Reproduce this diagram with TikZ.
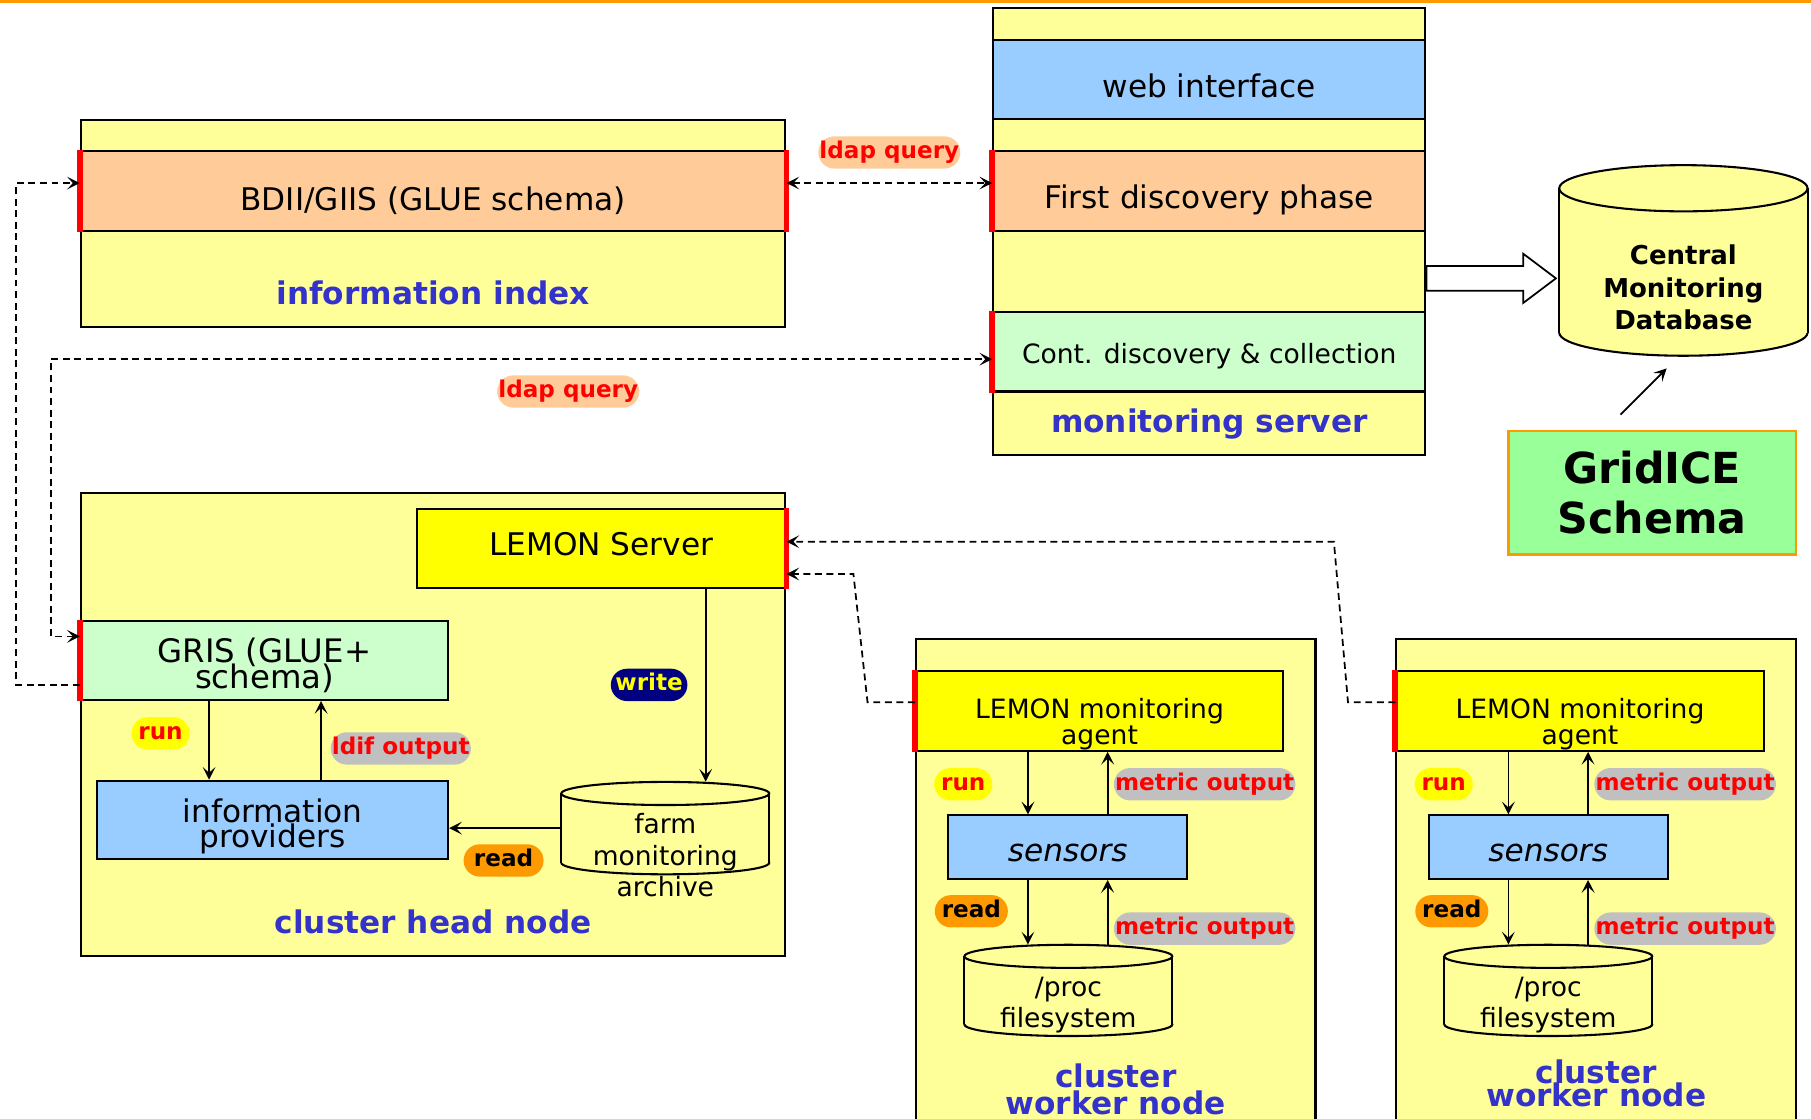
\documentclass[tikz,border=0pt]{standalone}
\usepackage{fontspec}
\setmainfont{DejaVu Sans}
\usetikzlibrary{shapes.arrows,arrows.meta}

\definecolor{padyellow}{HTML}{FFFF99}
\definecolor{peach}{HTML}{FFCC99}
\definecolor{skyblue}{HTML}{99CCFF}
\definecolor{mint}{HTML}{CCFFCC}
\definecolor{lemon}{HTML}{FFFF00}
\definecolor{schemagreen}{HTML}{99FF99}
\definecolor{titleblue}{HTML}{3333CC}
\definecolor{barred}{HTML}{FF0000}
\definecolor{tagnavy}{HTML}{000080}
\definecolor{tagorange}{HTML}{FF9900}
\definecolor{taggray}{HTML}{C0C0C0}

\begin{document}
\begin{tikzpicture}[
        x=1pt, y=-1pt,
        >={Stealth[length=11pt,width=11pt,inset=5pt]},
        node_box/.style={
            draw=black,
            line width=1.8pt,
            inner sep=0pt
        },
        pad_box/.style={node_box, fill=padyellow},
        band_text/.style={
            font=\fontsize{27}{22}\selectfont\lineskiplimit-30pt,
            align=center,
            inner sep=0pt
        },
        small_text/.style={
            font=\fontsize{23}{23}\selectfont\lineskiplimit-30pt,
            align=center,
            inner sep=0pt
        },
        drum_frame/.style={inner sep=0pt},
        drum_line/.style={draw=black, line width=1.8pt, fill=padyellow},
        node_title/.style={
            font=\fontsize{27}{23}\selectfont\bfseries\lineskiplimit-30pt,
            text=titleblue,
            align=center,
            inner sep=0pt
        },
        red_bar/.style={draw=barred, line width=5pt},
        query_link/.style={dash pattern=on 6pt off 4pt, line width=1.5pt},
        flow_arrow/.style={->, line width=1.5pt},
        tag_pill/.style={
            font=\fontsize{20}{20}\selectfont\bfseries,
            rounded corners=14pt,
            text height=14pt,
            text depth=4pt,
            inner xsep=6pt,
            inner ysep=5pt
        },
        flat_pill/.style={tag_pill, inner xsep=1pt}
    ]
        \useasboundingbox (0,0) rectangle (1568,968);
        \draw[tagorange, line width=3pt] (0,1) -- (1568,1);

        % monitoring server
        \node[pad_box, minimum width=374, minimum height=387] (monsrv) at (1047,200.5) {};
        \node[node_box, fill=skyblue, minimum width=374, minimum height=68] (web) at (1047,69) {};
        \node[node_box, fill=peach, minimum width=374, minimum height=69] (first) at (1047,165.5) {};
        \node[node_box, fill=mint, minimum width=374, minimum height=69] (cont) at (1047,304.5) {};
        \node[band_text] (webtext) at (1047,74) {web interface};
        \node[band_text] (firsttext) at (1047,173.5) {First discovery phase};
        \node[small_text] (conttext) at (1047,308.5) {Cont. discovery \& collection};
        \node[node_title] (monsrvtitle) at (1047,367) {monitoring server};
        \draw[red_bar] (first.north west) -- (first.south west);
        \draw[red_bar] (cont.north west) -- (cont.south west);

        % information index
        \node[pad_box, minimum width=610, minimum height=179] (infoidx) at (375,193.5) {};
        \node[node_box, fill=peach, minimum width=610, minimum height=69] (bdii) at (375,165.5) {};
        \node[band_text] (bdiitext) at (375,173.5) {BDII/GIIS (GLUE schema)};
        \node[node_title] (infoidxtitle) at (375,254) {information index};
        \draw[red_bar] (bdii.north west) -- (bdii.south west);
        \draw[red_bar] (bdii.north east) -- (bdii.south east);

        % central database and schema
        \node[drum_frame, minimum width=215, minimum height=165] (cmdb) at (1457.5,225.5) {};
        \node[single arrow, draw=black, line width=1.5pt, fill=white, inner xsep=0pt, inner ysep=10pt,
            minimum height=112, single arrow head extend=10.5pt,
            single arrow tip angle=74] (push) at (1284,241) {};
        \node[draw=tagorange, line width=2pt, fill=schemagreen, minimum width=249, minimum height=107,
            font=\fontsize{37}{44}\selectfont\bfseries, align=center] (gridice) at (1430.5,426.5) {GridICE\\Schema};
        \coordinate (schemaout) at (1403,359);
        \coordinate (schematip) at (1443,319);
        \draw[->, line width=1.5pt] (schemaout) -- (schematip);

        % cluster head node
        \node[pad_box, minimum width=610, minimum height=401] (headnode) at (375,627.5) {};
        \node[node_box, fill=lemon, minimum width=319, minimum height=68] (lemonsrv) at (520.5,475) {};
        \node[node_box, fill=mint, minimum width=318, minimum height=68] (gris) at (229,572) {};
        \node[node_box, fill=skyblue, minimum width=304, minimum height=68] (infoprov) at (236,710) {};
        \node[drum_frame, minimum width=180, minimum height=80] (farm) at (576,717) {};
        \node[band_text] (lemontext) at (520.5,471) {LEMON Server};
        \node[band_text, font=\fontsize{28}{22}\selectfont\lineskiplimit-30pt] (gristext) at (229,576) {GRIS (GLUE+\\schema)};
        \node[band_text] (infoprovtext) at (236,715.5) {information\\providers};
        \node[node_title] (headtitle) at (375,798) {cluster head node};
        \draw[red_bar] (lemonsrv.north east) -- (lemonsrv.south east);
        \draw[red_bar] (gris.north west) -- (gris.south west);

        \node[tag_pill, fill=lemon, text=barred] (headrun) at (139,635) {run};
        \node[flat_pill, fill=taggray, text=barred] (headldif) at (347,648) {ldif output};
        \node[tag_pill, inner xsep=4pt, fill=tagnavy, text=lemon] (headwrite) at (562,593) {write};
        \node[tag_pill, inner xsep=9pt, fill=tagorange, text=black] (headread) at (436,745) {read};

        % first worker node
        \node[pad_box, minimum width=346, minimum height=422] (worker1) at (966,764) {};
        \node[node_box, fill=lemon, minimum width=318, minimum height=69] (agent1) at (952,615.5) {};
        \node[node_box, fill=skyblue, minimum width=207, minimum height=55] (sensors1) at (924.5,733.5) {};
        \node[drum_frame, minimum width=180, minimum height=79] (proc1) at (925,857.5) {};
        \node[small_text] (agenttext1) at (952,627) {LEMON monitoring\\agent};
        \node[band_text, font=\fontsize{27}{27}\selectfont\itshape] (sensorstext1) at (924.5,738.5) {sensors};
        \node[node_title] (workertitle1) at (966,943) {cluster\\worker node};
        \draw[red_bar] (agent1.north west) -- (agent1.south west);

        \node[tag_pill, fill=lemon, text=barred] (workrun1) at (834,679) {run};
        \node[flat_pill, fill=taggray, text=barred] (workout1) at (1043,679) {metric output};
        \node[tag_pill, fill=tagorange, text=black] (workread1) at (841,789) {read};
        \node[flat_pill, fill=taggray, text=barred] (procout1) at (1043,804) {metric output};

        % second worker node
        \node[pad_box, minimum width=346, minimum height=422] (worker2) at (1382,764) {};
        \node[node_box, fill=lemon, minimum width=318, minimum height=69] (agent2) at (1368,615.5) {};
        \node[node_box, fill=skyblue, minimum width=207, minimum height=55] (sensors2) at (1340.5,733.5) {};
        \node[drum_frame, minimum width=180, minimum height=79] (proc2) at (1340.5,857.5) {};
        \node[small_text] (agenttext2) at (1368,627) {LEMON monitoring\\agent};
        \node[band_text, font=\fontsize{27}{27}\selectfont\itshape] (sensorstext2) at (1340.5,738.5) {sensors};
        \node[node_title, font=\fontsize{27}{20}\selectfont\bfseries\lineskiplimit-30pt] (workertitle2) at (1382,938) {cluster\\worker node};
        \draw[red_bar] (agent2.north west) -- (agent2.south west);

        \node[tag_pill, fill=lemon, text=barred] (workrun2) at (1250,679) {run};
        \node[flat_pill, fill=taggray, text=barred] (workout2) at (1459,679) {metric output};
        \node[tag_pill, fill=tagorange, text=black] (workread2) at (1257,789) {read};
        \node[flat_pill, fill=taggray, text=barred] (procout2) at (1459,804) {metric output};

        % drums for the stores
        \foreach \cx/\ytop/\ybot/\rx/\ry in {1457.5/163/288/107.5/20, 576/687/747/90/10,
                925/828/887/90/10, 1340.5/828/887/90/10} {
            \filldraw[drum_line] (\cx,\ybot) ellipse [x radius=\rx, y radius=\ry];
            \fill[padyellow] (\cx-\rx,\ytop) rectangle (\cx+\rx,\ybot);
            \draw[drum_line] (\cx-\rx,\ytop) -- (\cx-\rx,\ybot) (\cx+\rx,\ytop) -- (\cx+\rx,\ybot);
            \filldraw[drum_line] (\cx,\ytop) ellipse [x radius=\rx, y radius=\ry];
        }
        \node[font=\fontsize{22.5}{28}\selectfont\bfseries, align=center, inner sep=0pt] (cmdbtext) at (1457.5,249) {Central\\Monitoring\\Database};
        \node[small_text, font=\fontsize{23}{27.5}\selectfont] (farmtext) at (576,740.5) {farm\\monitoring\\archive};
        \node[small_text, font=\fontsize{23}{27}\selectfont] (proctext1) at (925,870.5) {/proc\\filesystem};
        \node[small_text, font=\fontsize{23}{27}\selectfont] (proctext2) at (1340.5,870.5) {/proc\\filesystem};

        % run, output, read and write arrows
        \draw[flow_arrow] ([xshift=-48pt]gris.south) -- ([xshift=-48pt]gris.south |- infoprov.north);
        \draw[flow_arrow] ([xshift=49pt]gris.south |- infoprov.north) -- ([xshift=49pt]gris.south);
        \draw[flow_arrow] ([xshift=90.5pt]lemonsrv.south) -- ([xshift=90.5pt]lemonsrv.south |- farm.north);
        \draw[flow_arrow] (farm.west) -- (farm.west -| infoprov.east);

        \draw[flow_arrow] ([xshift=-34.5pt]sensors1.north |- agent1.south) -- ([xshift=-34.5pt]sensors1.north);
        \draw[flow_arrow] ([xshift=34.5pt]sensors1.north) -- ([xshift=34.5pt]sensors1.north |- agent1.south);
        \draw[flow_arrow] ([xshift=-34.5pt]sensors1.south) -- ([xshift=-34.5pt]sensors1.south |- proc1.north);
        \draw[flow_arrow] ([xshift=34.5pt]sensors1.south |- proc1.north) -- ([xshift=34.5pt]sensors1.south);

        \draw[flow_arrow] ([xshift=-34.5pt]sensors2.north |- agent2.south) -- ([xshift=-34.5pt]sensors2.north);
        \draw[flow_arrow] ([xshift=34.5pt]sensors2.north) -- ([xshift=34.5pt]sensors2.north |- agent2.south);
        \draw[flow_arrow] ([xshift=-34.5pt]sensors2.south) -- ([xshift=-34.5pt]sensors2.south |- proc2.north);
        \draw[flow_arrow] ([xshift=34.5pt]sensors2.south |- proc2.north) -- ([xshift=34.5pt]sensors2.south);

        % ldap queries and agent links
        \draw[query_link, <->] ([yshift=7pt]bdii.east) -- ([yshift=7pt]first.west);
        \node[flat_pill, fill=peach, text=barred] (ldaptop) at (770,132) {ldap query};
        \draw[query_link, ->] ([yshift=-21pt]gris.west) -- ++(-55,0) |- ([yshift=7pt]bdii.west);
        \draw[query_link, <->] ([yshift=21pt]gris.west) -- ++(-25,0) |- ([yshift=-6.5pt]cont.west);
        \node[flat_pill, fill=peach, text=barred] (ldapmid) at (492,339) {ldap query};
        \draw[query_link, ->] ([yshift=7.5pt]agent1.west) -- ++(-41,0)
            -- ([xshift=58pt,yshift=-22pt]lemonsrv.east) -- ([yshift=-22pt]lemonsrv.east);
        \draw[query_link, ->] ([yshift=7.5pt]agent2.west) -- ++(-41,0)
            -- ([xshift=474pt,yshift=6pt]lemonsrv.east) -- ([yshift=6pt]lemonsrv.east);
\end{tikzpicture}
\end{document}
